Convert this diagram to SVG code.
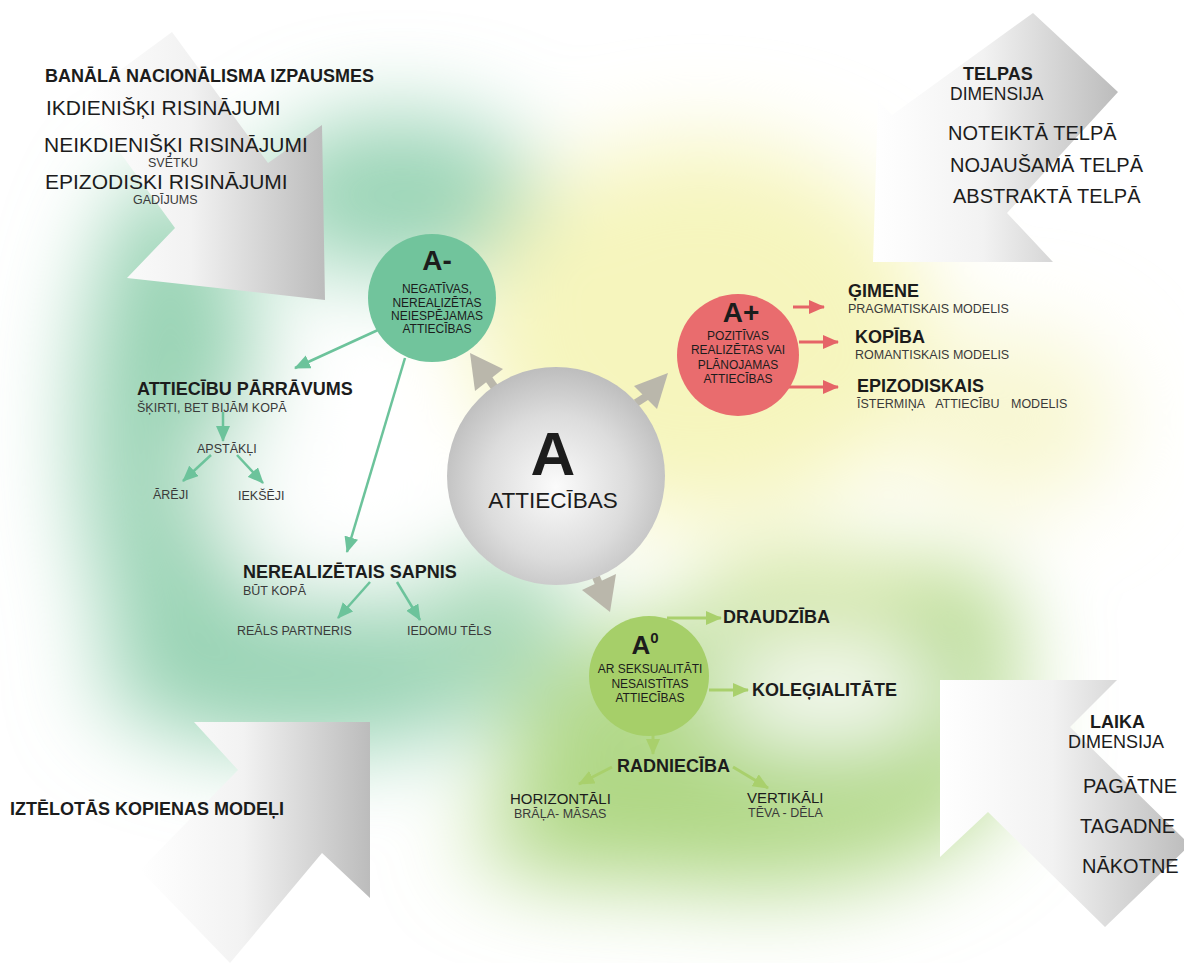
<svg xmlns="http://www.w3.org/2000/svg" width="1184" height="963" viewBox="0 0 1184 963">
<defs>
  <filter id="blur" filterUnits="userSpaceOnUse" x="-300" y="-300" width="1800" height="1600">
    <feGaussianBlur stdDeviation="45"/>
  </filter>
  <linearGradient id="gArrow" x1="0" y1="0" x2="1" y2="0">
    <stop offset="0" stop-color="#ffffff"/>
    <stop offset="0.45" stop-color="#f2f2f2"/>
    <stop offset="1" stop-color="#bcbcbc"/>
  </linearGradient>
  <radialGradient id="gBig" cx="0.5" cy="0.55" r="0.55">
    <stop offset="0" stop-color="#fbfbfb"/>
    <stop offset="0.6" stop-color="#dcdcdc"/>
    <stop offset="1" stop-color="#bdbdbd"/>
  </radialGradient>
  <marker id="mTeal" markerUnits="userSpaceOnUse" viewBox="0 0 16 14" refX="15" refY="7" markerWidth="16" markerHeight="14" orient="auto">
    <path d="M0,0 L16,7 L0,14 Z" fill="#6cc39b"/>
  </marker>
  <marker id="mRed" markerUnits="userSpaceOnUse" viewBox="0 0 16 14" refX="15" refY="7" markerWidth="16" markerHeight="14" orient="auto">
    <path d="M0,0 L16,7 L0,14 Z" fill="#e56467"/>
  </marker>
  <marker id="mLime" markerUnits="userSpaceOnUse" viewBox="0 0 16 14" refX="15" refY="7" markerWidth="16" markerHeight="14" orient="auto">
    <path d="M0,0 L16,7 L0,14 Z" fill="#a9d06c"/>
  </marker>
  <style>
    text { font-family: "Liberation Sans", Arial, sans-serif; fill: #1c1c1c; }
    .b { font-weight: bold; }
    .h18 { font-size: 18px; font-weight: bold; }
    .l21 { font-size: 21px; }
    .l20 { font-size: 20px; }
    .s12 { font-size: 12.5px; fill: #3a3a3a; }
    .c12 { font-size: 12px; text-anchor: middle; }
    .mid { text-anchor: middle; }
    .teal { stroke: #6cc39b; stroke-width: 2.5; fill: none; marker-end: url(#mTeal); }
    .red { stroke: #e56467; stroke-width: 3; fill: none; marker-end: url(#mRed); }
    .lime { stroke: #a9d06c; stroke-width: 3; fill: none; marker-end: url(#mLime); }
    .garr { fill: #bab7ab; }
    .gstem { stroke: #bab7ab; stroke-width: 8; }
  </style>
</defs>

<rect width="1184" height="963" fill="#ffffff"/>

<!-- soft colour background -->
<g id="background" filter="url(#blur)">
  <ellipse cx="170" cy="430" rx="90" ry="260" fill="#98d3b4"/>
  <ellipse cx="400" cy="195" rx="140" ry="80" fill="#9ad4b6"/>
  <ellipse cx="310" cy="675" rx="210" ry="75" fill="#98d3b4"/>
  <ellipse cx="500" cy="620" rx="70" ry="70" fill="#a6d8b6"/>
  <ellipse cx="290" cy="480" rx="100" ry="80" fill="#ffffff" opacity="0.8"/>
  <ellipse cx="700" cy="330" rx="230" ry="190" fill="#f6f5bd"/>
  <ellipse cx="1010" cy="420" rx="110" ry="90" fill="#f8f7d2"/>
  <ellipse cx="760" cy="750" rx="255" ry="140" fill="#b3d98a"/>
  <ellipse cx="620" cy="835" rx="150" ry="45" fill="#acd57f"/>
  <ellipse cx="945" cy="645" rx="70" ry="80" fill="#acd57f"/>
  <ellipse cx="820" cy="590" rx="120" ry="35" fill="#cfe49a"/>
  <ellipse cx="830" cy="690" rx="120" ry="48" fill="#ffffff"/>
</g>

<!-- big gray arrows -->
<g id="arrow-top-left">
  <polygon points="172,32 268,163 322,125 325,300 127,278 175,228 81,99" fill="url(#gArrow)"/>
</g>
<g id="arrow-top-right">
  <polygon points="1033,13 1118,92 1007,213 1053,262 873,262 878,100 892,115" fill="url(#gArrow)"/>
</g>
<g id="arrow-bottom-left">
  <polygon points="370,722 370,898 322,853 230,963 140,870 238,770 194,722" fill="url(#gArrow)"/>
</g>
<g id="arrow-bottom-right">
  <polygon points="940,680 1117,680 1070,727 1190,845 1105,927 988,812 940,857" fill="url(#gArrow)"/>
</g>

<!-- connectors -->
<g id="connectors">
  <line class="gstem" x1="495" y1="388" x2="488" y2="378"/>
  <polygon class="garr" points="470,353 503,369 475,391"/>
  <line class="gstem" x1="636" y1="403" x2="647" y2="396"/>
  <polygon class="garr" points="668,373 634,386 657,409"/>
  <line class="gstem" x1="596" y1="577" x2="599" y2="584"/>
  <polygon class="garr" points="610,612 582,590 616,574"/>

  <line class="teal" x1="378" y1="330" x2="295" y2="368"/>
  <line class="teal" x1="405" y1="358" x2="347" y2="552"/>
  <line class="teal" x1="223" y1="412" x2="223" y2="441"/>
  <line class="teal" x1="211" y1="455" x2="183" y2="481"/>
  <line class="teal" x1="237" y1="455" x2="263" y2="483"/>
  <line class="teal" x1="370" y1="582" x2="338" y2="618"/>
  <line class="teal" x1="397" y1="582" x2="420" y2="620"/>

  <line class="red" x1="793" y1="307" x2="824" y2="307"/>
  <line class="red" x1="799" y1="342" x2="838" y2="342"/>
  <line class="red" x1="788" y1="387" x2="838" y2="387"/>

  <line class="lime" x1="667" y1="618" x2="721" y2="618"/>
  <line class="lime" x1="709" y1="690" x2="748" y2="690"/>
  <line class="lime" x1="653" y1="735" x2="653" y2="754"/>
  <line class="lime" x1="612" y1="767" x2="579" y2="784"/>
  <line class="lime" x1="733" y1="767" x2="768" y2="788"/>
</g>

<!-- central node -->
<g id="node-A">
  <circle cx="556" cy="476" r="109" fill="url(#gBig)"/>
  <text x="553" y="475" class="mid b" font-size="62">A</text>
  <text x="553" y="508" class="mid" font-size="22.5">ATTIECĪBAS</text>
</g>

<g id="node-A-minus">
  <circle cx="432" cy="298" r="64" fill="#71c49c"/>
  <text x="437" y="270" class="mid b" font-size="28">A-</text>
  <text x="437" y="293" class="c12">NEGATĪVAS,</text>
  <text x="437" y="307" class="c12">NEREALIZĒTAS</text>
  <text x="437" y="320" class="c12">NEIESPĒJAMAS</text>
  <text x="437" y="333" class="c12">ATTIECĪBAS</text>
</g>

<g id="node-A-plus">
  <circle cx="738" cy="355" r="61" fill="#e96c6e"/>
  <text x="741" y="322" class="mid b" font-size="28">A+</text>
  <text x="738" y="340" class="c12">POZITĪVAS</text>
  <text x="738" y="354" class="c12">REALIZĒTAS VAI</text>
  <text x="738" y="369" class="c12">PLĀNOJAMAS</text>
  <text x="738" y="383" class="c12">ATTIECĪBAS</text>
</g>

<g id="node-A-zero">
  <circle cx="649" cy="676" r="60" fill="#a6cf69"/>
  <text x="645" y="654" class="mid b" font-size="26">A<tspan font-size="15" dy="-11">0</tspan></text>
  <text x="650" y="673" class="c12" font-size="11.5">AR SEKSUALITĀTI</text>
  <text x="650" y="688" class="c12" font-size="11.5">NESAISTĪTAS</text>
  <text x="650" y="702" class="c12" font-size="11.5">ATTIECĪBAS</text>
</g>

<!-- top-left block -->
<g id="banal-nationalism">
  <text x="45" y="82" class="h18">BANĀLĀ NACIONĀLISMA IZPAUSMES</text>
  <text x="46" y="115" class="l21">IKDIENIŠĶI RISINĀJUMI</text>
  <text x="44" y="152" class="l21">NEIKDIENIŠĶI RISINĀJUMI</text>
  <text x="148" y="167" class="s12">SVĒTKU</text>
  <text x="45" y="189" class="l21">EPIZODISKI RISINĀJUMI</text>
  <text x="133" y="204" class="s12">GADĪJUMS</text>
</g>

<g id="space-dimension">
  <text x="963" y="80" class="h18" font-size="17">TELPAS</text>
  <text x="950" y="100" font-size="17.5">DIMENSIJA</text>
  <text x="948" y="140" class="l20">NOTEIKTĀ TELPĀ</text>
  <text x="950" y="172" class="l20">NOJAUŠAMĀ TELPĀ</text>
  <text x="953" y="203" class="l20">ABSTRAKTĀ TELPĀ</text>
</g>

<g id="imagined-community">
  <text x="10" y="815" class="h18">IZTĒLOTĀS KOPIENAS MODEĻI</text>
</g>

<g id="time-dimension">
  <text x="1090" y="728" class="h18">LAIKA</text>
  <text x="1068" y="748" font-size="18">DIMENSIJA</text>
  <text x="1083" y="793" class="l20">PAGĀTNE</text>
  <text x="1080" y="833" class="l20">TAGADNE</text>
  <text x="1082" y="873" class="l20">NĀKOTNE</text>
</g>

<!-- A+ children -->
<g id="gimene">
  <text x="848" y="297" class="h18" font-size="17.5">ĢIMENE</text>
  <text x="848" y="313" class="s12" font-size="12">PRAGMATISKAIS MODELIS</text>
</g>
<g id="kopiba">
  <text x="855" y="343" class="h18" font-size="17.5">KOPĪBA</text>
  <text x="855" y="359" class="s12" font-size="12">ROMANTISKAIS MODELIS</text>
</g>
<g id="epizodiskais">
  <text x="857" y="392" class="h18">EPIZODISKAIS</text>
  <text x="857" y="408" class="s12" font-size="12" word-spacing="8">ĪSTERMIŅA ATTIECĪBU MODELIS</text>
</g>

<!-- A- children -->
<g id="parravums">
  <text x="137" y="395" class="h18">ATTIECĪBU PĀRRĀVUMS</text>
  <text x="137" y="412" class="s12">ŠĶIRTI, BET BIJĀM KOPĀ</text>
</g>
<g id="apstakli">
  <text x="197" y="453" class="s12">APSTĀKĻI</text>
</g>
<g id="areji"><text x="153" y="499" class="s12">ĀRĒJI</text></g>
<g id="iekseji"><text x="238" y="500" class="s12">IEKŠĒJI</text></g>
<g id="sapnis">
  <text x="243" y="578" class="h18">NEREALIZĒTAIS SAPNIS</text>
  <text x="243" y="595" class="s12">BŪT KOPĀ</text>
</g>
<g id="reals-partneris"><text x="237" y="635" class="s12">REĀLS PARTNERIS</text></g>
<g id="iedomu-tels"><text x="407" y="635" class="s12">IEDOMU TĒLS</text></g>

<!-- A0 children -->
<g id="draudziba"><text x="723" y="623" class="h18">DRAUDZĪBA</text></g>
<g id="kolegialitate"><text x="752" y="696" class="h18">KOLEĢIALITĀTE</text></g>
<g id="radnieciba"><text x="617" y="772" class="h18">RADNIECĪBA</text></g>
<g id="horizontali">
  <text x="510" y="804" font-size="15">HORIZONTĀLI</text>
  <text x="514" y="818" class="s12">BRĀĻA- MĀSAS</text>
</g>
<g id="vertikali">
  <text x="747" y="803" font-size="15">VERTIKĀLI</text>
  <text x="748" y="817" class="s12">TĒVA - DĒLA</text>
</g>
</svg>
